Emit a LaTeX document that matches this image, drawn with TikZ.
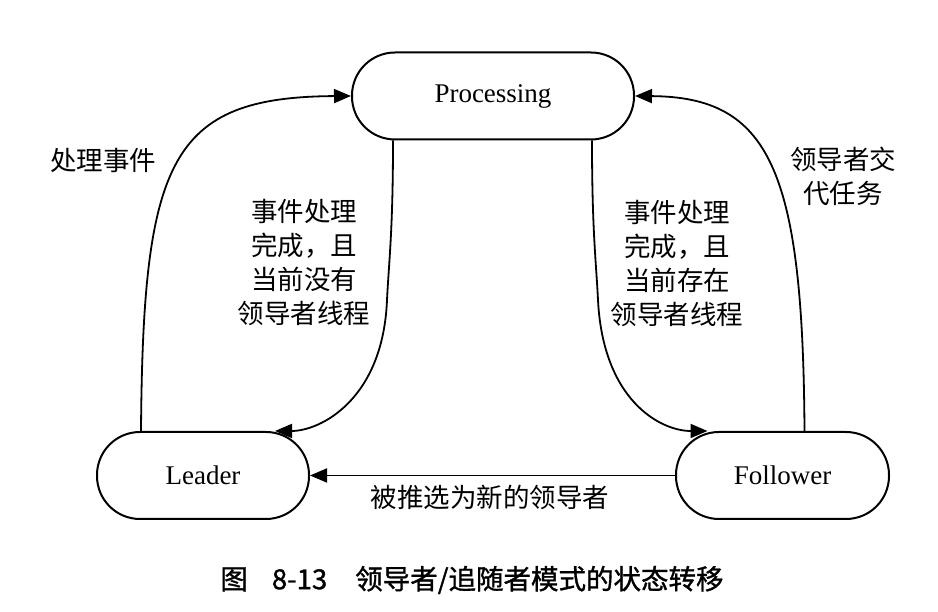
\documentclass[tikz,border=0pt]{standalone}
\usepackage{fontspec}
\setmainfont{Liberation Serif}
\newfontfamily\cjk{Noto Sans CJK SC}
\newfontfamily\cjkheavy[FakeBold=1.2]{Noto Sans CJK SC}
\usetikzlibrary{arrows.meta}
\begin{document}
\begin{tikzpicture}[x=1pt,y=1pt,
  state/.style={draw, line width=2pt, rounded corners=43pt, minimum height=87pt,
                inner sep=0pt, font=\fontsize{27}{30}\selectfont},
  flow/.style={line width=1.8pt, -{Triangle[length=17pt,width=14pt]}},
  note/.style={align=center, font=\cjk\fontsize{26.5}{34}\selectfont, inner sep=0pt}]
\useasboundingbox (0,0) rectangle (938,612);

% states
\node[state, minimum width=282pt] (P) at (493,516) {Processing};
\node[state, minimum width=212pt] (L) at (203,136.5) {Leader};
\node[state, minimum width=213pt] (F) at (782.5,136.5) {Follower};

% transitions
\draw[flow] ([xshift=-62pt]L.north) .. controls (143,452) and (170,515) .. (P.west);
\draw[flow] ([xshift=-100pt]P.south) .. controls (393,382) and (389,352) .. (387,312)
            .. controls (383,212) and (320,181) .. ([xshift=72pt]L.north);
\draw[flow] ([xshift=99pt]P.south) .. controls (592,382) and (596,352) .. (598,312)
            .. controls (603,212) and (660,181) .. ([xshift=-75pt]F.north);
\draw[flow] ([xshift=22pt]F.north) .. controls (803,442) and (770,515) .. (P.east);
\draw[flow] (F.west) -- (L.east);

% labels
\node[note] (t1) at (103,452) {处理事件};
\node[note] (t2) at (843,435.5) {领导者交\\代任务};
\node[note] (t3) at (304,350) {事件处理\\完成，且\\当前没有\\领导者线程};
\node[note] (t4) at (677,349) {事件处理\\完成，且\\当前存在\\领导者线程};
\node[note] (t5) at (490,115) {被推选为新的领导者};

% caption
\node[font=\cjkheavy\fontsize{27.5}{30}\selectfont, inner sep=0pt] (cap) at (472,32)
  {图\hspace{24pt}8-13\hspace{28pt}领导者/追随者模式的状态转移};
\end{tikzpicture}
\end{document}
